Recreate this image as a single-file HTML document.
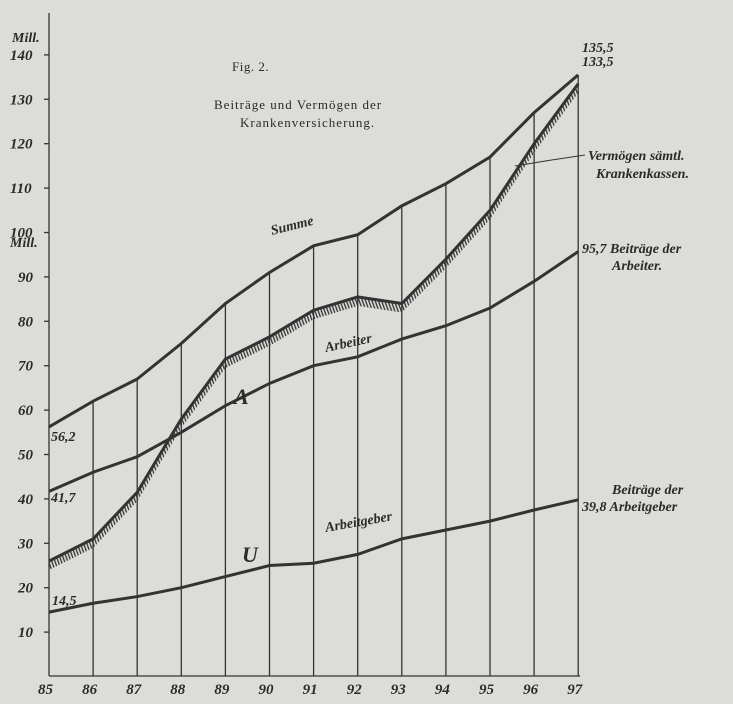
<!DOCTYPE html>
<html><head><meta charset="utf-8"><style>
body{margin:0;background:#dcdcd9;}
svg{display:block}
text{font-family:"Liberation Serif",serif;fill:#2a2a2a}
.t{font-style:italic;font-weight:bold;font-size:15px}
.l{font-style:italic;font-weight:bold;font-size:14px}
</style></head><body>
<svg width="733" height="704" viewBox="0 0 733 704">
<defs><pattern id="h" width="3" height="8" patternUnits="userSpaceOnUse" patternTransform="rotate(-20)"><rect width="1.3" height="8" fill="#333"/></pattern></defs>
<rect width="733" height="704" fill="#dcdcd9"/>
<g id="g" stroke="#333" stroke-width="1.3" fill="none"></g>
<g id="d"></g>
<text x="232" y="71" style="font-size:13px;letter-spacing:0.5px">Fig. 2.</text>
<text x="214" y="109" style="font-size:13px;letter-spacing:1px">Beiträge und Vermögen der</text>
<text x="240" y="127" style="font-size:13px;letter-spacing:1px">Krankenversicherung.</text>
<text class="l" x="12" y="42">Mill.</text>
<text class="l" x="10" y="247">Mill.</text>
<text class="l" x="272" y="235" transform="rotate(-14 272 235)">Summe</text>
<text class="l" x="326" y="352" transform="rotate(-12 326 352)">Arbeiter</text>
<text class="l" x="326" y="532" transform="rotate(-10 326 532)">Arbeitgeber</text>
<text x="234" y="404" style="font-style:italic;font-weight:bold;font-size:22px">A</text>
<text x="242" y="562" style="font-style:italic;font-weight:bold;font-size:22px">U</text>
<text class="l" x="51" y="441">56,2</text>
<text class="l" x="51" y="502">41,7</text>
<text class="l" x="52" y="605">14,5</text>
<text class="l" x="582" y="52">135,5</text>
<text class="l" x="582" y="66">133,5</text>
<text class="l" x="588" y="160">Vermögen sämtl.</text>
<text class="l" x="596" y="178">Krankenkassen.</text>
<text class="l" x="582" y="253">95,7 Beiträge der</text>
<text class="l" x="612" y="270">Arbeiter.</text>
<text class="l" x="612" y="494">Beiträge der</text>
<text class="l" x="582" y="511">39,8 Arbeitgeber</text>
<path d="M515 166 Q550 160 585 155" stroke="#333" fill="none"/>
</svg>
<script>
const X=i=>49+i*44.1, Y=v=>676.5-v*4.44;
const S=[56.2,62,67,75,84,91,97,99.5,106,111,117,127,135.5];
const A=[41.7,46,49.5,55,61,66,70,72,76,79,83,89,95.7];
const U=[14.5,16.5,18,20,22.5,25,25.5,27.5,31,33,35,37.5,39.8];
const V=[26,31,41.5,58,71.5,76.5,82.5,85.5,84,94,105,120,133.5];
const ns="http://www.w3.org/2000/svg",g=document.getElementById('g'),d=document.getElementById('d');
function el(p,t,a,txt){const e=document.createElementNS(ns,t);for(const k in a)e.setAttribute(k,a[k]);if(txt)e.textContent=txt;p.appendChild(e);return e}
el(g,'line',{x1:49,y1:13,x2:49,y2:676});
el(g,'line',{x1:49,y1:676,x2:580,y2:676});
for(let i=1;i<13;i++)el(g,'line',{x1:X(i),y1:Y(S[i]),x2:X(i),y2:676});
for(let i=0;i<13;i++)el(d,'text',{x:X(i)-11,y:694,class:'t'},String(85+i));
for(let v=10;v<=140;v+=10){el(g,'line',{x1:44,y1:Y(v),x2:49,y2:Y(v)});el(d,'text',{x:v>=100?10:18,y:Y(v)+5,class:'t'},String(v));}
const pts=a=>a.map((v,i)=>X(i)+','+Y(v)).join(' ');
const hp=V.map((v,i)=>X(i)+','+(Y(v)+1)).join(' ')+' '+V.slice().reverse().map((v,i)=>X(12-i)+','+(Y(v)+9)).join(' ');
el(d,'polygon',{points:hp,fill:'url(#h)'});
for(const a of [S,A,U,V])el(d,'polyline',{points:pts(a),fill:'none',stroke:'#333','stroke-width':3});
</script>
</body></html>
